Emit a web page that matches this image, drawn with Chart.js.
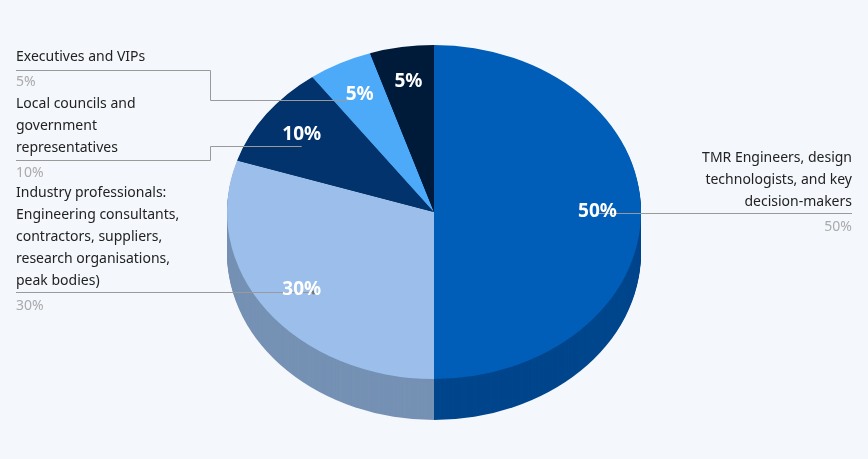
<!DOCTYPE html>
<html><head><meta charset="utf-8">
<script src="https://cdn.jsdelivr.net/npm/chart.js@4"></script>
<style>html,body{margin:0;padding:0;background:#f4f7fc;}#wrap{width:868px;height:459px;}</style>
</head><body><div id="wrap"><canvas id="c" width="868" height="459"></canvas></div>
<script>
const categories = ["TMR Engineers, design\ntechnologists, and key\ndecision-makers",
  "Industry professionals:\nEngineering consultants,\ncontractors, suppliers,\nresearch organisations,\npeak bodies)",
  "Local councils and\ngovernment\nrepresentatives",
  "Executives and VIPs",
  ""];
const values = [50, 30, 10, 5, 5];
const topColors = ["#005EB8", "#9BBFEA", "#02336C", "#4DAAF9", "#001A3A"];
const sideColors = ["#00468C", "#7591B4", "#012550", "#3a80bd", "#00102a"];

const CX = 434, CY = 212, RX = 207, RY = 167, DEPTH = 41;

function tf(ctx, el, dy){
  ctx.translate(CX, CY + dy);
  ctx.scale(RX / el.outerRadius, RY / el.outerRadius);
  ctx.translate(-el.x, -el.y);
}
const pie3d = {
  id: 'pie3d',
  beforeDatasetsDraw(chart){
    const ctx = chart.ctx, meta = chart.getDatasetMeta(0);
    for (let d = DEPTH; d >= 1; d--) {
      meta.data.forEach((el, i) => {
        ctx.save(); tf(ctx, el, d);
        ctx.beginPath(); ctx.moveTo(el.x, el.y);
        ctx.arc(el.x, el.y, el.outerRadius, el.startAngle, el.endAngle);
        ctx.closePath(); ctx.fillStyle = sideColors[i]; ctx.fill();
        ctx.restore();
      });
    }
    ctx.save(); tf(ctx, meta.data[0], 0);
  },
  afterDatasetsDraw(chart){
    const ctx = chart.ctx, meta = chart.getDatasetMeta(0);
    ctx.restore();
    const pts = meta.data.map(el => {
      const a = (el.startAngle + el.endAngle) / 2;
      return [CX + RX * 0.79 * Math.cos(a), CY + RY * 0.79 * Math.sin(a)];
    });
    ctx.save();
    ctx.strokeStyle = "#9a9a9a"; ctx.lineWidth = 1;
    const line = (p) => { ctx.beginPath(); ctx.moveTo(p[0][0], p[0][1]); for (let k=1;k<p.length;k++) ctx.lineTo(p[k][0], p[k][1]); ctx.stroke(); };
    line([[16,70.5],[210.5,70.5],[210.5,100.5],[pts[3][0]-12,100.5]]);
    line([[16,160.5],[210.5,160.5],[210.5,146.5],[pts[2][0],146.5]]);
    line([[16,292.5],[pts[1][0]+12,292.5]]);
    line([[pts[0][0],213.5],[852,213.5]]);
    ctx.fillStyle = "#777";
    [[pts[1][0]+12,292.5]].forEach(p=>{ctx.beginPath();ctx.arc(p[0],p[1],2,0,7);ctx.fill();});
    // outer labels
    ctx.font = "14px 'Noto Sans'"; ctx.textBaseline = "middle";
    const block = (txt, pct, x, y, align) => {
      ctx.textAlign = align; ctx.fillStyle = "#222";
      const ls = txt.split("\n");
      ls.forEach((l, k) => ctx.fillText(l, x, y + k * 22));
      ctx.fillStyle = "#aaa"; ctx.fillText(pct + "%", x, y + ls.length * 22 + 3);
    };
    block(categories[3], values[3], 16, 57, "left");
    block(categories[2], values[2], 16, 104, "left");
    block(categories[1], values[1], 16, 193, "left");
    block(categories[0], values[0], 852, 158, "right");
    // inner labels
    ctx.font = "bold 19px 'Noto Sans'"; ctx.fillStyle = "#fff"; ctx.textAlign = "center";
    pts.forEach((p, i) => ctx.fillText(values[i] + "%", p[0], p[1]));
    ctx.restore();
  }
};
new Chart(document.getElementById('c'), {
  type: 'pie',
  data: { labels: categories, datasets: [{ data: values, backgroundColor: topColors, borderWidth: 0, clip: false }] },
  options: { responsive: false, animation: false, events: [],
    plugins: { legend: { display: false }, tooltip: { enabled: false } } },
  plugins: [pie3d]
});
</script></body></html>
